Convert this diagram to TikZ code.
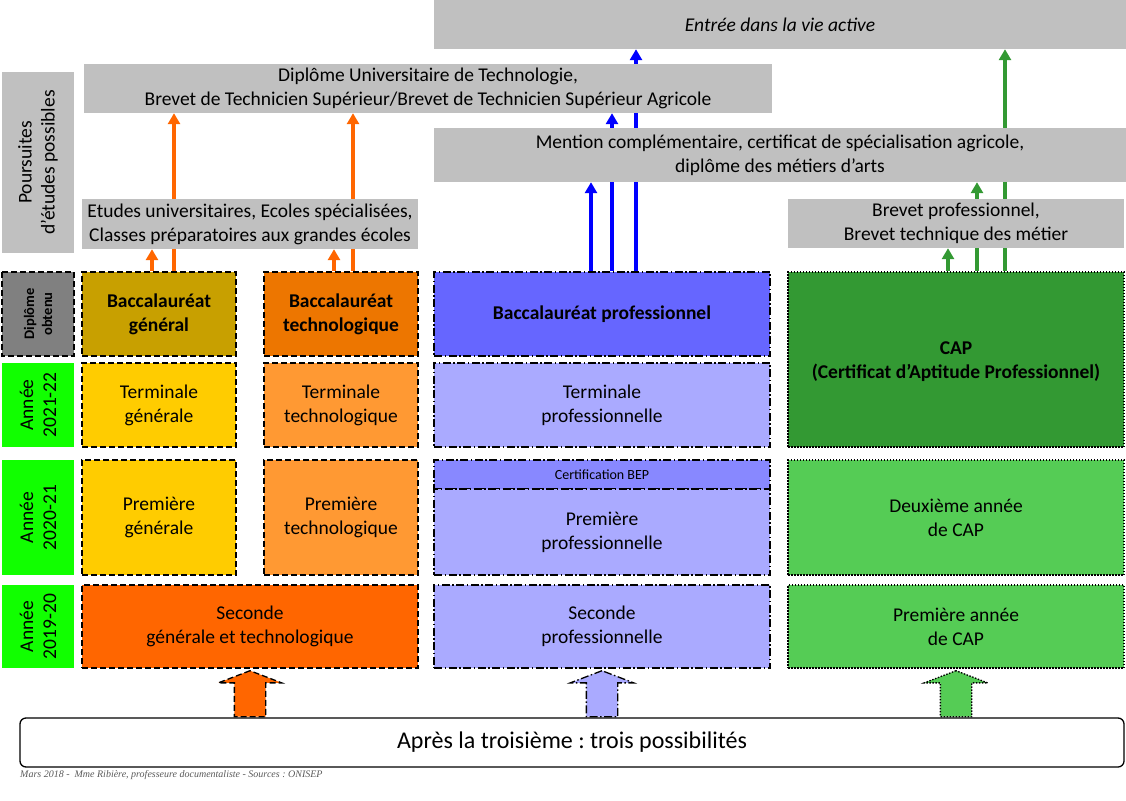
\documentclass[tikz,border=0pt]{standalone}
\usepackage{fontspec}
\setmainfont{Carlito}
\newfontfamily\footfont{Liberation Serif}
\usetikzlibrary{positioning,arrows.meta,shapes.arrows}
\pgfdeclarelayer{back}
\pgfsetlayers{back,main}
\frenchspacing
\definecolor{grisbox}{HTML}{C0C0C0}
\definecolor{grisfonce}{HTML}{808080}
\definecolor{vertan}{HTML}{11FF00}
\definecolor{bacgen}{HTML}{C8A000}
\definecolor{jaune}{HTML}{FFCC00}
\definecolor{bactec}{HTML}{ED7600}
\definecolor{orclair}{HTML}{FF9933}
\definecolor{orfonce}{HTML}{FF6600}
\definecolor{bleufonce}{HTML}{6666FF}
\definecolor{bleumoyen}{HTML}{8888FF}
\definecolor{bleuclair}{HTML}{AAAAFF}
\definecolor{vertfonce}{HTML}{339933}
\definecolor{vertclair}{HTML}{55CC55}

\begin{document}
\begin{tikzpicture}[x=1pt, y=-1pt,
    txt/.style={align=center, inner sep=0, font=\fontsize{19.5}{24}\selectfont},
    poursuite/.style={txt, fill=grisbox},
    annee/.style={txt, rotate=90, minimum height=72, font=\fontsize{19.5}{23}\selectfont},
    voiegt/.style={txt, draw, line width=1.3pt, dash pattern=on 6pt off 3pt, minimum width=154},
    voiepro/.style={txt, draw, line width=1.3pt, dash pattern=on 8pt off 2.5pt on 1.5pt off 2.5pt, minimum width=336},
    voiecap/.style={txt, draw, line width=1.3pt, dash pattern=on 1.5pt off 1.5pt, minimum width=336},
    gras/.style={font=\bfseries\fontsize{19.5}{24}\selectfont},
    fleche/.style={line width=3.5pt, -{Triangle[width=12pt,length=11pt]}},
    bloc/.style={single arrow, draw, line width=1.3pt, rotate=90, anchor=tail, inner sep=0, inner ysep=15,
        minimum height=46, minimum width=62, single arrow head extend=16, single arrow tip angle=138}]
    \useasboundingbox (0,0) rectangle (1126,800);

    % colonne de gauche
    \node[annee, fill=grisbox, minimum width=181] (pours) at (38,162.5) {Poursuites\\d’études possibles};
    \node[annee, fill=grisfonce, draw, line width=1.3pt, dash pattern=on 6pt off 3pt, minimum width=84,
        font=\bfseries\fontsize{14.5}{18}\selectfont] (dipl) at (38,314) {Diplôme\\obtenu};
    \node[annee, fill=vertan, minimum width=84] (an1) at (38,405) {Année\\2021-22};
    \node[annee, fill=vertan, minimum width=115] (an2) at (38,517.5) {Année\\2020-21};
    \node[annee, fill=vertan, minimum width=83] (an3) at (38,626.5) {Année\\2019-20};

    % voie generale et technologique
    \node[voiegt, gras, fill=bacgen, minimum height=84] (bacg) at (159,314) {Baccalauréat\\général};
    \node[voiegt, fill=jaune, minimum height=84] (termg) at (159,405) {Terminale\\générale};
    \node[voiegt, fill=jaune, minimum height=115] (premg) at (159,517.5) {Première\\générale};
    \node[voiegt, gras, fill=bactec, minimum height=84] (bact) at (341,314) {Baccalauréat\\technologique};
    \node[voiegt, fill=orclair, minimum height=84] (termt) at (341,405) {Terminale\\technologique};
    \node[voiegt, fill=orclair, minimum height=115] (premt) at (341,517.5) {Première\\technologique};
    \node[voiegt, fill=orfonce, minimum width=336, minimum height=83] (sec) at (250,626.5) {Seconde\\générale et technologique};

    % voie professionnelle
    \node[voiepro, gras, fill=bleufonce, minimum height=84] (bacpro) at (602,314) {Baccalauréat professionnel};
    \node[voiepro, fill=bleuclair, minimum height=84] (termpro) at (602,405) {Terminale\\professionnelle};
    \node[voiepro, fill=bleumoyen, minimum height=29, font=\fontsize{14}{16}\selectfont] (bep) at (602,474.5) {Certification BEP};
    \node[voiepro, fill=bleuclair, minimum height=86] (prempro) at (602,532) {Première\\professionnelle};
    \node[voiepro, fill=bleuclair, minimum height=83] (secpro) at (602,626.5) {Seconde\\professionnelle};

    % CAP
    \node[voiecap, gras, fill=vertfonce, minimum height=175] (capdipl) at (956,359.5) {\\[-6pt]CAP\\(Certificat d’Aptitude Professionnel)};
    \node[voiecap, fill=vertclair, minimum height=115] (cap2) at (956,517.5) {Deuxième année\\de CAP};
    \node[voiecap, fill=vertclair, minimum height=83] (cap1) at (956,626.5) {Première année\\de CAP};

    % poursuites d'etudes
    \node[poursuite, minimum width=692, minimum height=49, font=\itshape\fontsize{19.5}{24}\selectfont] (vie) at (780,24.5) {Entrée dans la vie active};
    \node[poursuite, minimum width=688, minimum height=49] (dut) at (428,88.5) {Diplôme Universitaire de Technologie,\\Brevet de Technicien Supérieur/Brevet de Technicien Supérieur Agricole};
    \node[poursuite, minimum width=692, minimum height=54] (mention) at (780,155) {Mention complémentaire, certificat de spécialisation agricole,\\diplôme des métiers d’arts};
    \node[poursuite, minimum width=336, minimum height=50] (etudes) at (250,224) {Etudes universitaires, Ecoles spécialisées,\\Classes préparatoires aux grandes écoles};
    \node[poursuite, minimum width=336, minimum height=49] (bp) at (956,223.5) {Brevet professionnel,\\Brevet technique des métier};

    % apres la troisieme
    \node[txt, draw, line width=1.3pt, rounded corners=6, fill=white, minimum width=1104, minimum height=49,
        font=\fontsize{24}{28}\selectfont] (apres) at (572,742.5) {Après la troisième : trois possibilités};
    \node[anchor=west, inner sep=0, text=black!65, font=\footfont\itshape\fontsize{10}{12}\selectfont] (source) at (20,775)
        {Mars 2018 -\ \ Mme Ribière, professeure documentaliste - Sources : ONISEP};

    \begin{pgfonlayer}{back}
    \draw[fleche, orfonce] ([xshift=-7]bacg.north) -- ([xshift=-7]bacg.north |- etudes.south);
    \draw[fleche, orfonce] ([xshift=15]bacg.north) -- ([xshift=15]bacg.north |- dut.south);
    \draw[fleche, orfonce] ([xshift=-7]bact.north) -- ([xshift=-7]bact.north |- etudes.south);
    \draw[fleche, orfonce] ([xshift=12]bact.north) -- ([xshift=12]bact.north |- dut.south);
    \draw[fleche, blue] ([xshift=-11]bacpro.north) -- ([xshift=-11]bacpro.north |- mention.south);
    \draw[fleche, blue] ([xshift=10]bacpro.north) -- ([xshift=10]bacpro.north |- dut.south);
    \draw[fleche, blue] ([xshift=34]bacpro.north) -- ([xshift=34]bacpro.north |- vie.south);
    \draw[fleche, vertfonce] ([xshift=-8]capdipl.north) -- ([xshift=-8]capdipl.north |- bp.south);
    \draw[fleche, vertfonce] ([xshift=21]capdipl.north) -- ([xshift=21]capdipl.north |- mention.south);
    \draw[fleche, vertfonce] ([xshift=49]capdipl.north) -- ([xshift=49]capdipl.north |- vie.south);
    \node[bloc, fill=orfonce, dash pattern=on 6pt off 3pt] (entreegt) at (sec.south |- apres.north) {};
    \node[bloc, fill=bleuclair, dash pattern=on 8pt off 2.5pt on 1.5pt off 2.5pt] (entreepro) at (secpro.south |- apres.north) {};
    \node[bloc, fill=vertclair, dash pattern=on 1.5pt off 1.5pt] (entreecap) at (cap1.south |- apres.north) {};
    \end{pgfonlayer}
\end{tikzpicture}
\end{document}
